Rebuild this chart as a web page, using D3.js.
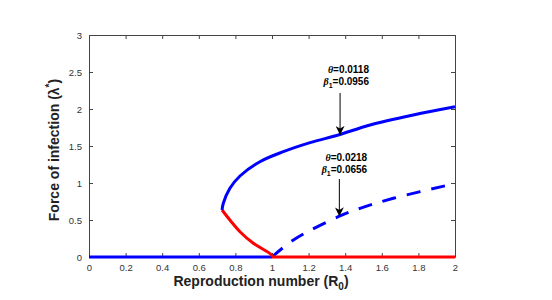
<!DOCTYPE html>
<html>
<head>
<meta charset="utf-8">
<script src="https://cdn.jsdelivr.net/npm/d3@7"></script>
<style>
  body { margin: 0; background: #fff; }
  svg { font-family: "Liberation Sans", Arial, sans-serif; }
</style>
</head>
<body>
<svg id="chart" width="552" height="300"></svg>
<script>
// stable endemic branch (theta=0.0118, beta1=0.0956)
const stableR0 = [0.727, 0.734, 0.77, 0.825, 0.934, 1.062, 1.208, 1.362, 1.536, 1.772, 2.0];
const stableLambda = [0.635, 0.726, 0.928, 1.095, 1.288, 1.423, 1.545, 1.649, 1.784, 1.919, 2.03];
// unstable branch
const unstableR0 = [0.727, 0.77, 0.825, 0.898, 0.998, 1.0];
const unstableLambda = [0.635, 0.5, 0.342, 0.185, 0.027, 0];
// second parameter set (theta=0.0218, beta1=0.0656), dashed
const dashR0 = [1.0, 1.117, 1.362, 1.481, 1.663, 1.99, 2.0];
const dashLambda = [0, 0.23, 0.545, 0.658, 0.793, 0.986, 0.99];
// disease free equilibrium
const dfeStableR0 = [0, 1];
const dfeUnstableR0 = [1, 2];

const xTicks = [0, 0.2, 0.4, 0.6, 0.8, 1, 1.2, 1.4, 1.6, 1.8, 2];
const yTicks = [0, 0.5, 1, 1.5, 2, 2.5, 3];

const margin = { top: 35, right: 97, bottom: 43, left: 89 };
const width = 552 - margin.left - margin.right;
const height = 300 - margin.top - margin.bottom;

const x = d3.scaleLinear().domain([0, 2]).range([0, width]);
const y = d3.scaleLinear().domain([0, 3]).range([height, 0]);

const svg = d3.select('#chart');
const g = svg.append('g').attr('transform', `translate(${margin.left},${margin.top})`);

const axisColor = '#444';

// box with inward ticks on all sides
const styleAxis = sel => {
  sel.select('.domain').attr('stroke', axisColor);
  sel.selectAll('.tick line').attr('stroke', axisColor);
  sel.selectAll('.tick text').attr('fill', '#333').attr('font-size', 9.5);
};

g.append('g')
  .attr('transform', `translate(0,${height})`)
  .call(d3.axisBottom(x).tickValues(xTicks).tickSizeInner(-4).tickSizeOuter(0).tickPadding(7).tickFormat(d3.format('')))
  .call(styleAxis);
g.append('g')
  .call(d3.axisTop(x).tickValues(xTicks).tickSizeInner(-4).tickSizeOuter(0).tickFormat(''))
  .call(styleAxis);
g.append('g')
  .call(d3.axisLeft(y).tickValues(yTicks).tickSizeInner(-4).tickSizeOuter(0).tickPadding(7).tickFormat(d3.format('')))
  .call(styleAxis);
g.append('g')
  .attr('transform', `translate(${width},0)`)
  .call(d3.axisRight(y).tickValues(yTicks).tickSizeInner(-4).tickSizeOuter(0).tickFormat(''))
  .call(styleAxis);

const line = d3.line().x(d => x(d[0])).y(d => y(d[1])).curve(d3.curveCatmullRom.alpha(0.5));

const drawCurve = (xs, ys, color, dash) => {
  g.append('path')
    .datum(xs.map((v, i) => [v, ys[i]]))
    .attr('d', line)
    .attr('fill', 'none')
    .attr('stroke', color)
    .attr('stroke-width', 3)
    .attr('stroke-dasharray', dash || null);
};

drawCurve(dfeStableR0, [0, 0], '#0000ff');
drawCurve(dashR0, dashLambda, '#0000ff', '14,11');
drawCurve(dfeUnstableR0, [0, 0], '#ff0000');
drawCurve(unstableR0, unstableLambda, '#ff0000');
drawCurve(stableR0, stableLambda, '#0000ff');

// annotations
svg.append('defs').append('marker')
  .attr('id', 'arrow')
  .attr('viewBox', '0 0 10 10')
  .attr('refX', 10).attr('refY', 5)
  .attr('markerWidth', 9).attr('markerHeight', 9)
  .attr('markerUnits', 'userSpaceOnUse')
  .attr('orient', 'auto')
  .append('path')
  .attr('d', 'M0,0 L10,5 L0,10 L3,5 Z')
  .attr('fill', '#000');

const notes = [
  { theta: '0.0118', beta: '0.0956', tx: 1.53, ty: 2.48, ax: 1.372, ay0: 2.216, ay1: 1.65 },
  { theta: '0.0218', beta: '0.0656', tx: 1.52, ty: 1.30, ax: 1.368, ay0: 1.054, ay1: 0.55 }
];

notes.forEach(n => {
  g.append('line')
    .attr('x1', x(n.ax)).attr('x2', x(n.ax))
    .attr('y1', y(n.ay0)).attr('y2', y(n.ay1))
    .attr('stroke', '#000').attr('stroke-width', 1)
    .attr('marker-end', 'url(#arrow)');

  const t1 = g.append('text')
    .attr('x', x(n.tx)).attr('y', y(n.ty))
    .attr('text-anchor', 'end').attr('font-size', 10).attr('font-weight', 'bold');
  t1.append('tspan').attr('font-style', 'italic').attr('font-family', '"Liberation Serif", serif').text('θ');
  t1.append('tspan').text('=' + n.theta);

  const t2 = g.append('text')
    .attr('x', x(n.tx)).attr('y', y(n.ty) + 12)
    .attr('text-anchor', 'end').attr('font-size', 10).attr('font-weight', 'bold');
  t2.append('tspan').attr('font-style', 'italic').attr('font-family', '"Liberation Serif", serif').text('β');
  t2.append('tspan').attr('font-size', 7).attr('dy', 3).text('1');
  t2.append('tspan').attr('dy', -3).text('=' + n.beta);
});

// axis titles
const xt = svg.append('text')
  .attr('x', margin.left + width / 2 - 11)
  .attr('y', 286)
  .attr('text-anchor', 'middle')
  .attr('font-size', 14).attr('font-weight', 'bold').attr('fill', '#222');
xt.append('tspan').text('Reproduction number (R');
xt.append('tspan').attr('font-size', 10).attr('dy', 4).text('0');
xt.append('tspan').attr('dy', -4).text(')');

const yt = svg.append('text')
  .attr('transform', 'translate(59,150) rotate(-90)')
  .attr('text-anchor', 'middle')
  .attr('font-size', 14).attr('font-weight', 'bold').attr('fill', '#222');
yt.append('tspan').text('Force of infection (λ');
yt.append('tspan').attr('font-size', 10).attr('dy', -6).text('*');
yt.append('tspan').attr('dy', 6).text(')');
</script>
</body>
</html>
